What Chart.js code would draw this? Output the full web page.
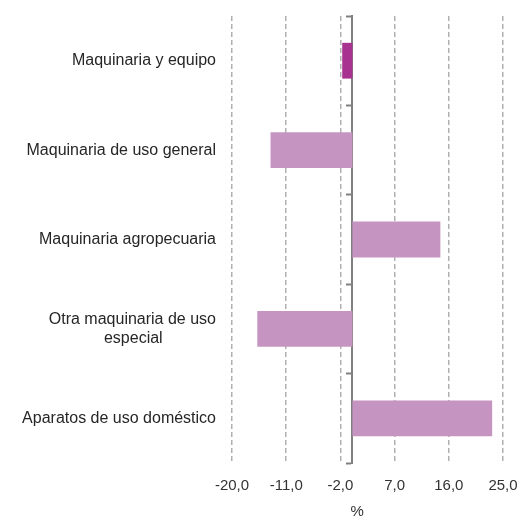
<!DOCTYPE html>
<html>
<head>
<meta charset="utf-8">
<script src="https://cdn.jsdelivr.net/npm/chart.js@4/dist/chart.umd.min.js"></script>
<style>
  html, body { margin: 0; padding: 0; background: #ffffff; }
  #wrap { width: 519px; height: 516px; }
</style>
</head>
<body>
<div id="wrap"><canvas id="c" width="519" height="516"></canvas></div>
<script>
// Variación porcentual por rama de actividad
const categories = [
  ['Maquinaria y equipo'],
  ['Maquinaria de uso general'],
  ['Maquinaria agropecuaria'],
  ['Otra maquinaria de uso', 'especial'],
  ['Aparatos de uso doméstico']
];
const values = [-1.7, -13.6, 14.6, -15.8, 23.2];
const barColors = ['#a8328f', '#c594c0', '#c594c0', '#c594c0', '#c594c0'];
const axisMin = -20;
const axisMax = 25;
const axisStep = 9;
const axisTitle = '%';

const family = '"Liberation Sans", Arial, sans-serif';
const labelSize = 16;

// Centre the shorter lines of a multi-line label under the longest one
// by padding them with trailing spaces (labels are right-aligned).
const measureCtx = document.createElement('canvas').getContext('2d');
measureCtx.font = labelSize + 'px ' + family;
function centreLines(lines) {
  if (lines.length < 2) return lines[0];
  const widths = lines.map(l => measureCtx.measureText(l).width);
  const maxW = Math.max(...widths);
  const sp = measureCtx.measureText(' ').width;
  return lines.map((l, i) => l + ' '.repeat(Math.round((maxW - widths[i]) / 2 / sp)));
}
const labels = categories.map(centreLines);

new Chart(document.getElementById('c'), {
  type: 'bar',
  data: {
    labels: labels,
    datasets: [{
      data: values,
      backgroundColor: barColors,
      borderWidth: 0,
      barPercentage: 0.4,
      categoryPercentage: 1.0,
      yAxisID: 'y'
    }]
  },
  options: {
    indexAxis: 'y',
    responsive: false,
    animation: false,
    devicePixelRatio: 1,
    layout: { padding: { left: 0, right: 16, top: 16, bottom: 0 } },
    plugins: { legend: { display: false }, tooltip: { enabled: false } },
    scales: {
      x: {
        type: 'linear',
        min: axisMin,
        max: axisMax,
        ticks: {
          stepSize: axisStep,
          padding: 0,
          color: '#333333',
          font: { family: family, size: 15 },
          callback: v => v.toFixed(1).replace('.', ',')
        },
        grid: {
          color: '#b0b0b0',
          lineWidth: 1.5,
          drawTicks: true,
          tickLength: 14,
          tickColor: 'rgba(0,0,0,0)'
        },
        border: { display: false, dash: [5, 3] },
        title: {
          display: true,
          // trailing spaces nudge the centred unit label towards the zero line
          text: axisTitle + '     ',
          color: '#333333',
          font: { family: family, size: 15 },
          padding: { top: 2, bottom: -5 }
        },
        afterFit: s => { s.height = 53; }
      },
      y: {
        type: 'category',
        position: 'left',
        offset: true,
        grid: {
          display: true,
          drawOnChartArea: false,
          drawTicks: true,
          tickLength: 16,
          tickColor: 'rgba(0,0,0,0)'
        },
        border: { display: false },
        ticks: {
          padding: 0,
          color: '#262626',
          font: { family: family, size: labelSize }
        },
        afterFit: s => { s.width = 232; }
      },
      zero: {
        type: 'category',
        axis: 'y',
        position: { x: 0 },
        offset: true,
        grid: {
          offset: true,
          drawOnChartArea: false,
          drawTicks: true,
          tickLength: 5,
          tickColor: '#808080',
          tickWidth: 2
        },
        border: { display: true, color: '#808080', width: 2 },
        ticks: { display: false }
      }
    }
  }
});
</script>
</body>
</html>
